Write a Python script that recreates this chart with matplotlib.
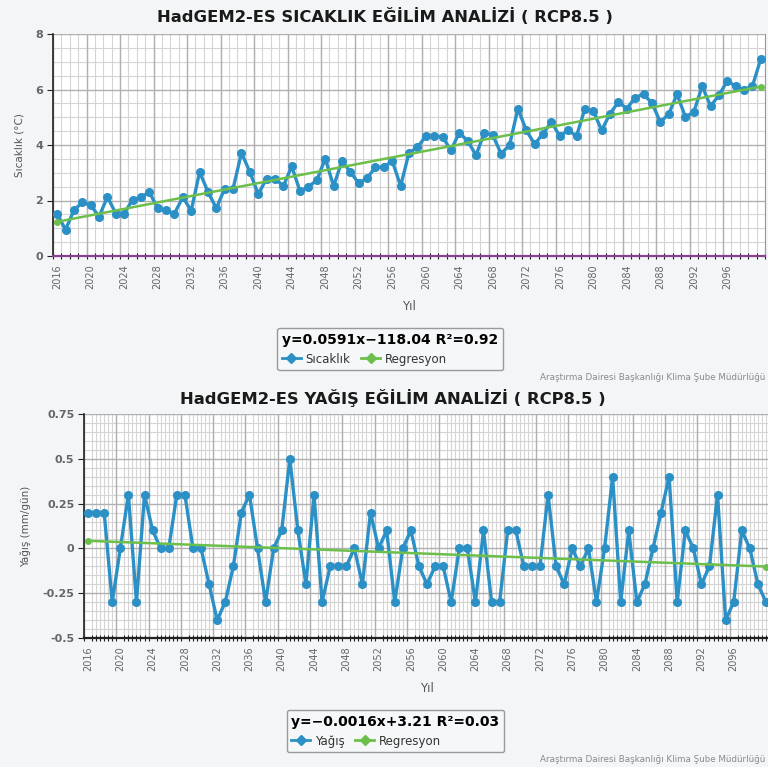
import numpy as np
import matplotlib.pyplot as plt
from matplotlib.lines import Line2D
from matplotlib.ticker import MultipleLocator, FixedLocator

years = np.arange(2016, 2101)

# yıllık sıcaklık değişimi (°C)
sicaklik = [1.50, 0.95, 1.65, 1.93, 1.83, 1.42, 2.13, 1.53, 1.53, 2.03,
            2.12, 2.30, 1.73, 1.64, 1.53, 2.12, 1.63, 3.03, 2.31, 1.72,
            2.43, 2.43, 3.72, 3.03, 2.23, 2.79, 2.79, 2.52, 3.23, 2.33,
            2.50, 2.73, 3.51, 2.52, 3.42, 3.03, 2.62, 2.81, 3.20, 3.20,
            3.43, 2.52, 3.72, 3.91, 4.32, 4.32, 4.30, 3.81, 4.44, 4.15,
            3.63, 4.44, 4.35, 3.69, 3.99, 5.31, 4.53, 4.03, 4.41, 4.83,
            4.32, 4.53, 4.32, 5.31, 5.23, 4.53, 5.13, 5.55, 5.31, 5.71,
            5.83, 5.51, 4.83, 5.11, 5.83, 5.01, 5.19, 6.12, 5.40, 5.79,
            6.31, 6.12, 6.00, 6.12, 7.11]

# yıllık yağış değişimi (mm/gün)
yagis = [0.2, 0.2, 0.2, -0.3, 0.0, 0.3, -0.3, 0.3, 0.1, 0.0,
         0.0, 0.3, 0.3, 0.0, 0.0, -0.2, -0.4, -0.3, -0.1, 0.2,
         0.3, 0.0, -0.3, 0.0, 0.1, 0.5, 0.1, -0.2, 0.3, -0.3,
         -0.1, -0.1, -0.1, 0.0, -0.2, 0.2, 0.0, 0.1, -0.3, 0.0,
         0.1, -0.1, -0.2, -0.1, -0.1, -0.3, 0.0, 0.0, -0.3, 0.1,
         -0.3, -0.3, 0.1, 0.1, -0.1, -0.1, -0.1, 0.3, -0.1, -0.2,
         0.0, -0.1, 0.0, -0.3, 0.0, 0.4, -0.3, 0.1, -0.3, -0.2,
         0.0, 0.2, 0.4, -0.3, 0.1, 0.0, -0.2, -0.1, 0.3, -0.4,
         -0.3, 0.1, 0.0, -0.2, -0.3]

etiket_yillar = list(range(2016, 2097, 4))
sic_ticks = [0, 2, 4, 6, 8]
sic_etiket = ['0', '2', '4', '6', '8']
yag_ticks = [-0.5, -0.25, 0, 0.25, 0.5, 0.75]
yag_etiket = ['-0.5', '-0.25', '0', '0.25', '0.5', '0.75']

mavi = '#2b90c6'
yesil = '#6cbf4a'
footer = 'Araştırma Dairesi Başkanlığı Klima Şube Müdürlüğü'

W, H = 768, 767
fig = plt.figure(figsize=(W / 100, H / 100), dpi=100, facecolor='#f3f5f6')


def px(x0, y_top, x1, y_bot):
    return [x0 / W, 1 - y_bot / H, (x1 - x0) / W, (y_bot - y_top) / H]


def grafik(ax, y, yt, yt_txt, ymin, xminor, alt_renk):
    ax.set_facecolor('white')
    ax.xaxis.set_major_locator(FixedLocator(etiket_yillar))
    ax.xaxis.set_minor_locator(FixedLocator(xminor))
    ax.set_yticks(yt)
    ax.set_yticklabels(yt_txt, fontsize=8, color='#666666', fontweight='bold')
    ax.yaxis.set_minor_locator(MultipleLocator(ymin))
    ax.set_xticklabels([str(v) for v in etiket_yillar], rotation=90,
                       fontsize=7, color='#666666')
    ax.set_xlim(2015.5, 2100.5)
    ax.set_ylim(yt[0], yt[-1])
    ax.grid(which='minor', color='#d4d4d4', lw=0.8)
    ax.grid(axis='y', which='major', color='#b0b0b0', lw=1.0)
    for v in etiket_yillar:
        ax.axvline(v - 0.5, color='#b0b0b0', lw=1.0, zorder=0.6)
    ax.set_axisbelow(True)
    ax.tick_params(axis='x', which='major', length=0, pad=6)
    ax.tick_params(axis='x', which='minor', direction='inout', length=5,
                   color='#222222', width=0.8)
    ax.tick_params(axis='y', which='major', direction='out', length=4,
                   color='#222222', pad=3)
    ax.tick_params(axis='y', which='minor', length=0)
    ax.spines['top'].set_visible(False)
    ax.spines['right'].set_color('#999999')
    ax.spines['left'].set_color('#222222')
    ax.spines['left'].set_linewidth(1.2)
    ax.spines['bottom'].set_color(alt_renk)
    ax.spines['bottom'].set_linewidth(1.6)

    ax.plot(years, y, color=mavi, lw=2.4, marker='o', ms=5.5, zorder=3,
            clip_on=False)
    egim, kesim = np.polyfit(years, y, 1)
    xr = np.array([years[0], years[-1]])
    ax.plot(xr, egim * xr + kesim, color=yesil, lw=1.8, marker='o', ms=4,
            zorder=4, clip_on=False)


# Sıcaklık grafiği
ax1 = fig.add_axes(px(53, 34, 765, 256))
grafik(ax1, sicaklik, sic_ticks, sic_etiket, 0.5,
       np.arange(2015.5, 2101, 1), '#8a3f8f')
ax1.set_ylabel('Sıcaklık (°C)', fontsize=7.5, color='#555555', labelpad=8)
ax1.set_xlabel('Yıl', fontsize=8.5, color='#555555', labelpad=8)
fig.text(0.501, 1 - 16 / H, 'HadGEM2-ES SICAKLIK EĞİLİM ANALİZİ ( RCP8.5 )',
         ha='center', va='center', fontsize=11.8, fontweight='heavy',
         color='#1a1a1a')

# Yağış grafiği
ax2 = fig.add_axes(px(84, 414, 770, 638))
grafik(ax2, yagis, yag_ticks, yag_etiket, 0.05,
       np.arange(2015.5, 2101, 0.5), '#222222')
ax2.set_ylabel('Yağış (mm/gün)', fontsize=7.5, color='#555555', labelpad=8)
ax2.set_xlabel('Yıl', fontsize=8.5, color='#555555', labelpad=8)
fig.text(0.511, 1 - 398 / H, 'HadGEM2-ES YAĞIŞ EĞİLİM ANALİZİ ( RCP8.5 )',
         ha='center', va='center', fontsize=11.8, fontweight='heavy',
         color='#1a1a1a')


def lejant(ust, baslik, ad, cx):
    h = [Line2D([], [], color=mavi, lw=2, marker='D', ms=5),
         Line2D([], [], color=yesil, lw=2, marker='D', ms=5)]
    lg = fig.legend(h, [ad, 'Regresyon'], title=baslik, ncol=2,
                    loc='upper center', bbox_to_anchor=(cx, 1 - ust / H),
                    frameon=True, fancybox=True, edgecolor='#9a9a9a',
                    facecolor='#f6f7f8', framealpha=1, fontsize=8.5,
                    handlelength=1.6, handletextpad=0.4, columnspacing=0.9,
                    alignment='left',
                    title_fontproperties={'weight': 'bold', 'size': 10})
    for t in lg.get_texts():
        t.set_color('#333333')


lejant(322, 'y=0.0591x−118.04 R²=0.92', 'Sıcaklık', 0.508)
lejant(704, 'y=−0.0016x+3.21 R²=0.03', 'Yağış', 0.515)

fig.text(0.997, 1 - 377 / H, footer, ha='right', va='center', fontsize=6.3,
         color='#8a8a8a')
fig.text(0.997, 1 - 760 / H, footer, ha='right', va='center', fontsize=6.3,
         color='#8a8a8a')

fig.savefig('out.png', dpi=100, facecolor=fig.get_facecolor())
